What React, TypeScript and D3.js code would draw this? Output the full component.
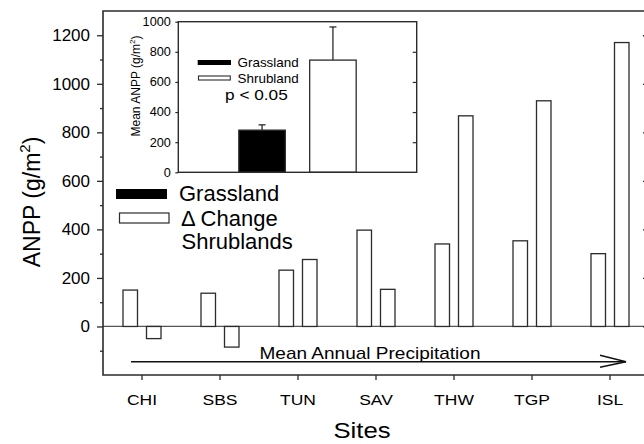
import React, { useEffect, useRef } from "react";
import * as d3 from "d3";

// main panel data (ANPP, g/m2)
const sites = ["CHI", "SBS", "TUN", "SAV", "THW", "TGP", "ISL"];
const grassland = [150, 137, 232, 397, 340, 353, 300];
const shrubChange = [-50, -85, 276, 153, 868, 930, 1170];
const yMajorTicks = [0, 200, 400, 600, 800, 1000, 1200];
const yMinorTicks = [-100, 100, 300, 500, 700, 900, 1100];

// inset data (mean ANPP)
const insetGroups = ["Grassland", "Shrubland"];
const insetMeans = [280, 745];
const insetErrors = [35, 220];
const insetTicks = [0, 200, 400, 600, 800, 1000];

const FONT = "'Liberation Sans', Arial, Helvetica, sans-serif";
const INK = "#2b2b2b";

const App = () => {
  const ref = useRef<SVGSVGElement>(null);

  useEffect(() => {
    const svg = d3.select(ref.current);
    svg.selectAll("*").remove();

    // text with optional horizontal stretch (the original lettering is a bit wide)
    const label = (g: any, x: number, y: number, txt: string, size: number, anchor = "start", sx = 1) =>
      g.append("text")
        .attr("transform", `translate(${x},${y}) scale(${sx},1)`)
        .attr("text-anchor", anchor)
        .attr("font-family", FONT)
        .attr("font-size", size)
        .attr("fill", "#000")
        .text(txt);

    // ---------- main panel ----------
    const left = 103, right = 649, top = 11, bottom = 375;
    const x = d3.scaleBand().domain(sites).range([left, right]).padding(0);
    const inner = d3.scaleBand().domain(["grass", "shrub"]).range([-19, 19]).paddingInner(0.383);
    const y = d3.scaleLinear().domain([-200, 1300]).range([bottom, top]);
    const cx = (s: string) => (x(s) as number) + x.bandwidth() / 2;

    const bars = sites.flatMap((s, i) => [
      { site: s, key: "grass", v: grassland[i] },
      { site: s, key: "shrub", v: shrubChange[i] },
    ]);

    // zero line
    svg.append("line")
      .attr("x1", left).attr("x2", right)
      .attr("y1", y(0)).attr("y2", y(0))
      .attr("stroke", "#555").attr("stroke-width", 1.2);

    svg.append("g").selectAll("rect")
      .data(bars)
      .enter()
      .append("rect")
      .attr("x", d => cx(d.site) + (inner(d.key) as number))
      .attr("width", inner.bandwidth())
      .attr("y", d => y(Math.max(0, d.v)))
      .attr("height", d => Math.abs(y(d.v) - y(0)))
      .attr("fill", "#fff")
      .attr("stroke", INK)
      .attr("stroke-width", 1.3);

    // frame
    svg.append("path")
      .attr("d", `M${right},${top}H${left}V${bottom}H${right}`)
      .attr("fill", "none").attr("stroke", INK).attr("stroke-width", 1.6);

    // left axis
    const yAxis = svg.append("g").attr("transform", `translate(${left},0)`)
      .call(d3.axisLeft(y).tickValues(yMajorTicks).tickSize(6).tickPadding(7).tickFormat(d3.format("d")));
    svg.append("g").attr("transform", `translate(${left},0)`)
      .call(d3.axisLeft(y).tickValues(yMinorTicks).tickSize(3).tickFormat(() => ""));
    // right axis (inward ticks)
    svg.append("g").attr("transform", `translate(${right},0)`)
      .call(d3.axisRight(y).tickValues(yMajorTicks).tickSize(-6).tickFormat(() => ""));
    // bottom axis
    const xAxis = svg.append("g").attr("transform", `translate(0,${bottom})`)
      .call(d3.axisBottom(x).tickSize(5).tickPadding(15));

    svg.selectAll(".domain").remove();
    svg.selectAll(".tick line").attr("stroke", INK).attr("stroke-width", 1.3);
    yAxis.selectAll("text").attr("font-size", 17).attr("font-family", FONT).attr("fill", "#000");
    xAxis.selectAll("text").attr("font-size", 14).attr("font-family", FONT).attr("fill", "#000")
      .attr("transform", "scale(1.25,1)");

    // axis titles
    const yTitle = svg.append("text")
      .attr("transform", "translate(40,202) rotate(-90)")
      .attr("text-anchor", "middle")
      .attr("font-family", FONT)
      .attr("font-size", 23);
    yTitle.append("tspan").text("ANPP (g/m");
    yTitle.append("tspan").attr("font-size", 15).attr("dy", -10).text("2");
    yTitle.append("tspan").attr("dy", 10).text(")");

    label(svg, 362, 438, "Sites", 22, "middle", 1.17);

    // precipitation arrow
    svg.append("line")
      .attr("x1", 131).attr("x2", 626).attr("y1", 361.7).attr("y2", 361.7)
      .attr("stroke", "#111").attr("stroke-width", 1.4);
    svg.append("path")
      .attr("d", "M600,355.3L626,361.7L600,367.3")
      .attr("fill", "none").attr("stroke", "#111").attr("stroke-width", 1.4);
    label(svg, 370, 359, "Mean Annual Precipitation", 17, "middle", 1.12);

    // main legend
    svg.append("rect").attr("x", 116).attr("y", 189).attr("width", 51).attr("height", 10).attr("fill", "#000");
    label(svg, 179, 201, "Grassland", 22);
    svg.append("rect").attr("x", 119.5).attr("y", 213).attr("width", 49.5).attr("height", 10)
      .attr("fill", "#fff").attr("stroke", INK).attr("stroke-width", 1.2);
    label(svg, 181, 226, "\u0394 Change", 22);
    label(svg, 181.5, 249, "Shrublands", 22);

    // ---------- inset ----------
    const iLeft = 178.3, iRight = 416.7, iTop = 21.7, iBottom = 172.3;
    const ix = d3.scaleBand().domain(insetGroups).range([iLeft, iRight]).paddingInner(0.344).paddingOuter(0.854);
    const iy = d3.scaleLinear().domain([0, 1000]).range([iBottom, iTop]);
    const inset = svg.append("g");

    inset.append("rect")
      .attr("x", iLeft).attr("y", iTop).attr("width", iRight - iLeft).attr("height", iBottom - iTop)
      .attr("fill", "#fff");

    const ib = inset.selectAll("g.bar")
      .data(insetGroups.map((g, i) => ({ g, m: insetMeans[i], e: insetErrors[i] })))
      .enter()
      .append("g");
    ib.append("line")
      .attr("x1", d => (ix(d.g) as number) + ix.bandwidth() / 2)
      .attr("x2", d => (ix(d.g) as number) + ix.bandwidth() / 2)
      .attr("y1", d => iy(d.m)).attr("y2", d => iy(d.m + d.e))
      .attr("stroke", INK).attr("stroke-width", 1.3);
    ib.append("line")
      .attr("x1", d => (ix(d.g) as number) + ix.bandwidth() / 2 - 3.5)
      .attr("x2", d => (ix(d.g) as number) + ix.bandwidth() / 2 + 3.5)
      .attr("y1", d => iy(d.m + d.e)).attr("y2", d => iy(d.m + d.e))
      .attr("stroke", INK).attr("stroke-width", 1.3);
    ib.append("rect")
      .attr("x", d => ix(d.g) as number)
      .attr("width", ix.bandwidth())
      .attr("y", d => iy(d.m))
      .attr("height", d => iy(0) - iy(d.m))
      .attr("fill", (d, i) => (i === 0 ? "#000" : "#fff"))
      .attr("stroke", INK)
      .attr("stroke-width", 1.3);

    inset.append("rect")
      .attr("x", iLeft).attr("y", iTop).attr("width", iRight - iLeft).attr("height", iBottom - iTop)
      .attr("fill", "none").attr("stroke", INK).attr("stroke-width", 1.4);

    const iAxis = inset.append("g").attr("transform", `translate(${iLeft},0)`)
      .call(d3.axisLeft(iy).tickValues(insetTicks).tickSize(3).tickPadding(4).tickFormat(d3.format("d")));
    inset.append("g").attr("transform", `translate(${iRight},0)`)
      .call(d3.axisRight(iy).tickValues(insetTicks.slice(1, -1)).tickSize(-4).tickFormat(() => ""));
    inset.selectAll(".domain").remove();
    inset.selectAll(".tick line").attr("stroke", INK).attr("stroke-width", 1.2);
    iAxis.selectAll("text").attr("font-size", 12).attr("font-family", FONT).attr("fill", "#000")
      .attr("transform", "scale(1.06,1)");

    const iTitle = inset.append("text")
      .attr("transform", "translate(140,86) rotate(-90)")
      .attr("text-anchor", "middle")
      .attr("font-family", FONT)
      .attr("font-size", 12);
    iTitle.append("tspan").text("Mean ANPP (g/m");
    iTitle.append("tspan").attr("font-size", 8).attr("dy", -5).text("2");
    iTitle.append("tspan").attr("dy", 5).text(")");

    // inset legend
    inset.append("rect").attr("x", 197.7).attr("y", 60).attr("width", 33.3).attr("height", 5).attr("fill", "#000");
    label(inset, 237.5, 66.7, "Grassland", 12, "start", 1.12);
    inset.append("rect").attr("x", 198.5).attr("y", 76).attr("width", 31.8).attr("height", 4)
      .attr("fill", "#fff").attr("stroke", INK).attr("stroke-width", 1.1);
    label(inset, 237.5, 82.7, "Shrubland", 12, "start", 1.12);
    label(inset, 225, 100, "p < 0.05", 15, "start", 1.15);
  }, []);

  return (
    <svg
      ref={ref}
      width={644}
      height={444}
      style={{ position: "absolute", left: 0, top: 0, background: "#fff" }}
    />
  );
};

export default App;
